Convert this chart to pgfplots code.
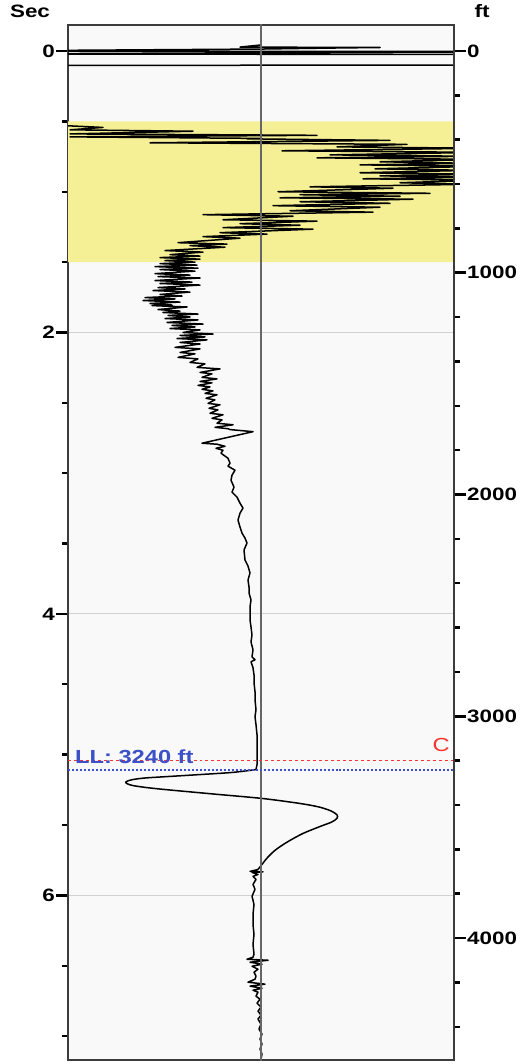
\documentclass[border=0pt]{standalone}
\usepackage{fontspec}
\setmainfont{Liberation Sans}
\usepackage{graphicx}
\usepackage{pgfplots}
\pgfplotsset{compat=1.18}
\usepackage{pgfplotstable}

\definecolor{bandyellow}{RGB}{245,240,150}
\definecolor{plotbg}{RGB}{249,249,249}
\definecolor{framec}{RGB}{60,60,60}
\definecolor{llblue}{RGB}{60,80,200}
\definecolor{cred}{RGB}{250,50,50}
\newcommand{\tl}[1]{\scalebox{1.25}[1]{#1}}

\pgfplotstableread{
x t
0 -0.043
-21 -0.028
119 -0.025
69 -0.021
39 -0.018
0 -0.014
-300 0.000
300 0.004
-300 0.021
300 0.025
300 0.099
-300 0.103
-300 0.504
-191 0.532
-158 0.543
-191 0.560
-68 0.570
-191 0.589
56 0.599
-191 0.610
-1 0.621
-14 0.624
129 0.635
-111 0.652
146 0.663
76 0.681
219 0.691
21 0.709
219 0.720
69 0.738
209 0.748
56 0.759
219 0.770
119 0.787
209 0.798
99 0.809
219 0.819
114 0.837
209 0.848
99 0.865
219 0.876
119 0.887
209 0.897
102 0.908
219 0.918
139 0.936
209 0.947
49 0.965
132 0.975
17 1.000
169 1.011
39 1.021
139 1.032
19 1.043
152 1.053
39 1.071
129 1.082
12 1.099
119 1.110
29 1.135
112 1.145
-58 1.163
32 1.174
-38 1.199
56 1.209
-21 1.227
39 1.238
-38 1.255
52 1.266
-41 1.291
6 1.301
-58 1.319
-21 1.330
-83 1.362
-34 1.372
-71 1.383
-36 1.394
-96 1.418
-58 1.429
-91 1.447
-61 1.457
-101 1.468
-61 1.479
-96 1.489
-66 1.500
-101 1.511
-64 1.521
-106 1.532
-63 1.543
-101 1.553
-66 1.564
-106 1.582
-71 1.592
-103 1.603
-61 1.613
-106 1.631
-69 1.642
-101 1.652
-61 1.663
-103 1.681
-76 1.691
-108 1.702
-71 1.713
-101 1.730
-79 1.741
-116 1.752
-86 1.762
-118 1.773
-81 1.784
-111 1.794
-89 1.805
-109 1.809
-74 1.819
-103 1.837
-81 1.848
-98 1.858
-63 1.869
-93 1.879
-71 1.890
-96 1.901
-63 1.911
-94 1.929
-58 1.940
-89 1.950
-66 1.961
-91 1.972
-61 1.982
-78 2.000
-48 2.011
-81 2.021
-56 2.032
-84 2.043
-54 2.053
-81 2.071
-61 2.082
-86 2.106
-61 2.117
-81 2.142
-66 2.152
-83 2.177
-63 2.188
-71 2.213
-56 2.223
-64 2.248
-41 2.259
-61 2.284
-49 2.294
-59 2.319
-44 2.330
-61 2.348
-49 2.358
-63 2.376
-51 2.387
-59 2.404
-48 2.415
-56 2.433
-44 2.443
-55 2.468
-46 2.479
-53 2.504
-41 2.514
-52 2.539
-43 2.550
-51 2.574
-38 2.585
-49 2.610
-39 2.621
-44 2.645
-28 2.656
-46 2.674
-33 2.684
-31 2.690
-8 2.705
-59 2.787
-44 2.794
-36 2.809
-45 2.823
-38 2.837
-40 2.858
-33 2.894
-31 2.929
-33 2.950
-26 2.979
-29 3.014
-30 3.050
-27 3.099
-29 3.135
-24 3.170
-21 3.213
-18 3.248
-21 3.284
-23 3.333
-21 3.383
-19 3.426
-16 3.461
-14 3.496
-17 3.546
-16 3.617
-13 3.660
-11 3.709
-13 3.759
-12 3.809
-12 3.851
-10 3.901
-11 3.950
-11 3.993
-11 4.043
-10 4.092
-9 4.149
-10 4.199
-8 4.255
-9 4.305
-6 4.326
-10 4.340
-8 4.383
-7 4.433
-7 4.489
-6 4.553
-6 4.610
-5 4.681
-6 4.730
-5 4.787
-4 4.858
-4 4.915
-4 4.965
-4 5.021
-4 5.071
-5 5.106
}\tracetop

\pgfplotstableread{
x t
-5 5.106
-28 5.126
-62 5.142
-94 5.156
-116 5.166
-129 5.178
-135 5.193
-134 5.206
-128 5.220
-112 5.236
-90 5.252
-44 5.282
2 5.312
39 5.347
58 5.372
70 5.400
76 5.428
76 5.452
71 5.478
60 5.508
42 5.560
26 5.622
14 5.680
6 5.735
1 5.780
-3 5.816
}\tracepulse

\pgfplotstableread{
x t
-3 5.816
-11 5.830
2 5.833
-9 5.837
-3 5.851
-8 5.865
-5 5.887
-8 5.922
-6 5.957
-9 6.007
-7 6.064
-8 6.135
-8 6.206
-7 6.277
-8 6.348
-7 6.418
-8 6.440
-14 6.454
7 6.461
-11 6.475
1 6.489
-9 6.504
-3 6.525
-7 6.546
-5 6.574
-6 6.596
-13 6.617
4 6.631
-11 6.645
1 6.660
-8 6.674
-3 6.688
-5 6.716
-1 6.738
-4 6.766
0 6.794
-3 6.823
0 6.851
-3 6.879
0 6.915
-2 6.950
1 6.986
-1 7.021
1 7.057
-1 7.092
1 7.128
0 7.163
1 7.206
}\tracebottom

\begin{document}
\begin{tikzpicture}
\useasboundingbox (-68bp,-4bp) rectangle (454bp,1060bp);
\begin{axis}[
  at={(0,0)}, anchor=south west,
  scale only axis, width=386bp, height=1035bp,
  xmin=-193, xmax=193,
  ymin=-0.185, ymax=7.17, y dir=reverse,
  xtick=\empty,
  ytick={0,2,4,6},
  yticklabels={\tl{0},\tl{2},\tl{4},\tl{6}},
  minor ytick={0.5,1,1.5,2.5,3,3.5,4.5,5,5.5,6.5,7},
  ytick pos=left,
  tick align=outside,
  major tick length=12bp,
  minor tick length=6bp,
  every tick/.style={line width=2.6bp, black},
  every major tick/.append style={line width=2.6bp, black},
  every minor tick/.append style={line width=2.4bp, black},
  yticklabel style={font=\fontsize{18}{18}\selectfont\bfseries, inner sep=1bp},
  ymajorgrids=true,
  major grid style={draw=black!18, line width=1bp},
  axis line style={draw=framec, line width=1.6bp},
  axis background/.style={fill=plotbg},
  clip=true,
]
\addplot[fill=bandyellow, draw=none, forget plot] coordinates {(-193,0.5) (193,0.5) (193,1.5) (-193,1.5) (-193,0.5)};
\addplot[black, line width=1.5bp, line join=round] table[x=x, y=t] {\tracetop};
\addplot[black, line width=1.5bp, smooth, tension=0.5] table[x=x, y=t] {\tracepulse};
\addplot[black, line width=1.5bp, line join=round] table[x=x, y=t] {\tracebottom};
\addplot[draw=black!60, line width=1.8bp] coordinates {(0,-0.3) (0,7.3)};
\addplot[draw=cred, dashed, line width=1bp] coordinates {(-193,5.04) (193,5.04)};
\addplot[draw=llblue, dotted, line width=2bp] coordinates {(-193,5.11) (193,5.11)};
\node[anchor=base east, text=cred, font=\fontsize{19}{19}\selectfont, inner sep=0pt] at (axis cs:189,4.98) {\tl{C}};
\node[anchor=base west, text=llblue, font=\fontsize{19}{19}\selectfont\bfseries, inner sep=0pt] at (axis cs:-186,5.06) {\tl{LL: 3240 ft}};
\end{axis}
\begin{axis}[
  at={(0,0)}, anchor=south west,
  scale only axis, width=386bp, height=1035bp,
  xmin=-193, xmax=193,
  ymin=-117, ymax=4550, y dir=reverse,
  hide x axis,
  axis y line*=right,
  ytick={0,1000,2000,3000,4000},
  yticklabels={\tl{0},\tl{1000},\tl{2000},\tl{3000},\tl{4000}},
  minor ytick={200,400,600,800,1200,1400,1600,1800,2200,2400,2600,2800,3200,3400,3600,3800,4200,4400},
  tick align=outside,
  major tick length=12bp,
  minor tick length=6bp,
  every tick/.style={line width=2.6bp, black},
  every major tick/.append style={line width=2.6bp, black},
  every minor tick/.append style={line width=2.4bp, black},
  yticklabel style={font=\fontsize{18}{18}\selectfont\bfseries, inner sep=1bp},
  axis line style={draw=framec, line width=1.6bp},
]
\addplot[draw=none] coordinates {(0,0)};
\end{axis}
\node[anchor=base, font=\fontsize{18}{18}\selectfont\bfseries] at (-38bp,1042bp) {\tl{Sec}};
\node[anchor=base, font=\fontsize{18}{18}\selectfont\bfseries] at (414bp,1042bp) {\tl{ft}};
\end{tikzpicture}
\end{document}
